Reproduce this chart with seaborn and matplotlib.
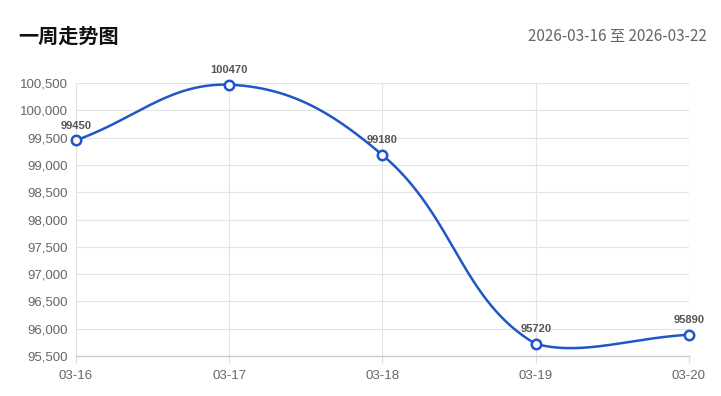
import numpy as np
import pandas as pd
import matplotlib
matplotlib.use("Agg")
import matplotlib.pyplot as plt
import seaborn as sns

dates = ["03-16", "03-17", "03-18", "03-19", "03-20"]
values = [99450, 100470, 99180, 95720, 95890]
yticks = [95500, 96000, 96500, 97000, 97500, 98000, 98500, 99000, 99500, 100000, 100500]
title = "一周走势图"
subtitle = "2026-03-16 至 2026-03-22"

sns.set_theme(style="white")
plt.rcParams['font.family'] = ['Noto Sans CJK SC', 'DejaVu Sans']

W, H = 721, 396
fig = plt.figure(figsize=(W / 100, H / 100), dpi=100)
L, R, T, B = 76, 689, 83, 356
ax = fig.add_axes([L / W, 1 - B / H, (R - L) / W, (B - T) / H])

ymin, ymax = 95500, 100500
xs = np.arange(len(values), dtype=float)
ys = np.array(values, dtype=float)

# Chart.js-like spline (tension 0.4) in pixel space, control points capped to area
sx = (R - L) / (len(values) - 1)
sy = (B - T) / (ymax - ymin)
P = np.column_stack([xs * sx, (ys - ymin) * sy])
tension = 0.4
n = len(P)
cps = []
for i in range(n):
    prev = P[i - 1] if i > 0 else P[i]
    nxt = P[i + 1] if i < n - 1 else P[i]
    cur = P[i]
    d01 = np.linalg.norm(cur - prev)
    d12 = np.linalg.norm(nxt - cur)
    s01 = d01 / (d01 + d12) if (d01 + d12) else 0
    s12 = d12 / (d01 + d12) if (d01 + d12) else 0
    fa = tension * s01
    fb = tension * s12
    c0 = cur - fa * (nxt - prev)
    c1 = cur + fb * (nxt - prev)
    lo = np.array([0, 0]); hi = np.array([R - L, B - T])
    cps.append((np.clip(c0, lo, hi), np.clip(c1, lo, hi)))
curve = []
t = np.linspace(0, 1, 80)[:, None]
for i in range(n - 1):
    p0 = P[i]; p1 = cps[i][1]; p2 = cps[i + 1][0]; p3 = P[i + 1]
    seg = (1 - t) ** 3 * p0 + 3 * (1 - t) ** 2 * t * p1 + 3 * (1 - t) * t ** 2 * p2 + t ** 3 * p3
    curve.append(seg if i == 0 else seg[1:])
curve = np.vstack(curve)
df_curve = pd.DataFrame({"x": curve[:, 0] / sx, "y": curve[:, 1] / sy + ymin})
df_pts = pd.DataFrame({"x": xs, "y": ys})

line_color = "#1f57c9"
sns.lineplot(data=df_curve, x="x", y="y", ax=ax, color=line_color, linewidth=1.8, sort=False, zorder=3)
ax.scatter(df_pts["x"], df_pts["y"], s=46, facecolor="white", edgecolor=line_color, linewidth=1.8, zorder=4, clip_on=False)

for x, y in zip(xs, ys):
    ax.annotate(f"{int(y)}", (x, y), xytext=(0, 7), textcoords="offset points",
                ha="center", va="bottom", fontsize=8, fontweight="bold", color="#555555",
                family=['Liberation Sans', 'DejaVu Sans'])

ax.set_xlim(0, len(values) - 1)
ax.set_ylim(ymin, ymax)
ax.set_xticks(xs)
ax.set_xticklabels(dates)
ax.set_yticks(yticks)
ax.set_yticklabels([f"{v:,}" for v in yticks])
ax.set_xlabel("")
ax.set_ylabel("")
ax.grid(True, color="#e3e3e3", linewidth=0.8)
ax.set_axisbelow(True)
for s in ["top", "right", "left"]:
    ax.spines[s].set_visible(False)
ax.spines["bottom"].set_color("#cccccc")
ax.spines["bottom"].set_linewidth(1)
ax.tick_params(axis="x", labelsize=9.5, length=5, width=0.8, direction="out", pad=5, bottom=True, color="#dddddd")
ax.tick_params(axis="y", labelsize=9.5, length=0, pad=6)
for lab in ax.get_xticklabels() + ax.get_yticklabels():
    lab.set_color("#666666")
    lab.set_family(['Liberation Sans', 'DejaVu Sans'])

fig.text(18 / W, 1 - 36 / H, title, fontsize=14.5, fontweight="bold", color="#111111", ha="left", va="center")
fig.text(707 / W, 1 - 36 / H, subtitle, fontsize=11, color="#666666", ha="right", va="center")

fig.savefig("out.png", dpi=100, facecolor="white")
